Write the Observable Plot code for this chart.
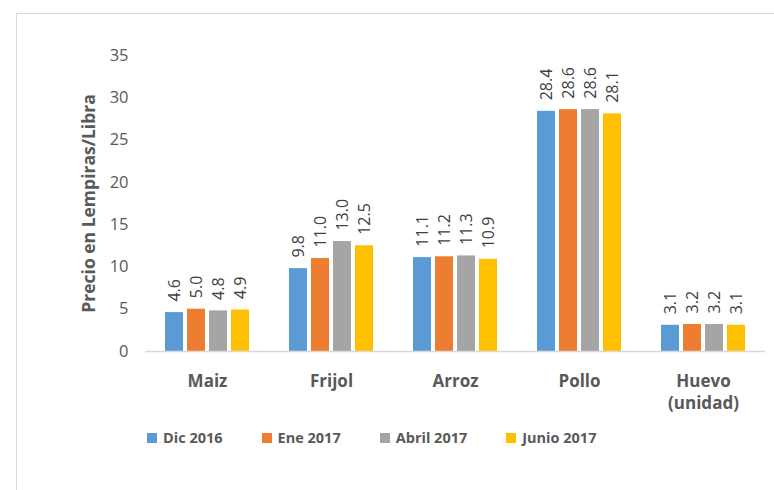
<!DOCTYPE html>
<html>
<head>
<meta charset="utf-8">
<script src="https://cdn.jsdelivr.net/npm/d3@7"></script>
<script src="https://cdn.jsdelivr.net/npm/@observablehq/plot@0.6"></script>
<style>
  html, body { margin: 0; padding: 0; background: #fff; }
  body { width: 774px; height: 490px; position: relative; overflow: hidden; font-family: "Open Sans", sans-serif; }
  #frame { position: absolute; left: 16px; top: 13px; width: 800px; height: 520px; border-left: 1.5px solid #d9d9d9; border-top: 1.5px solid #d9d9d9; }
  #chart { position: absolute; left: 0; top: 0; }
  #chart g[aria-label="y-axis label"] text { font-weight: bold; font-size: 17.5px; }
  #chart g[aria-label="fx-axis tick label"] text { font-weight: bold; }
  #legend { position: absolute; top: 428px; left: 147px; display: flex; font-weight: bold; font-size: 14.5px; color: #595959; }
  #legend .item { display: flex; align-items: center; margin-right: 39px; }
  #legend .sw { width: 10px; height: 10px; margin-right: 6px; }
</style>
</head>
<body>
<div id="frame"></div>
<div id="chart"></div>
<div id="legend"></div>
<script>
const categories = ["Maiz", "Frijol", "Arroz", "Pollo", "Huevo\n(unidad)"];
const series = ["Dic 2016", "Ene 2017", "Abril 2017", "Junio 2017"];
const dic2016 = [4.6, 9.8, 11.1, 28.4, 3.1];
const ene2017 = [5.0, 11.0, 11.2, 28.6, 3.2];
const abril2017 = [4.8, 13.0, 11.3, 28.6, 3.2];
const junio2017 = [4.9, 12.5, 10.9, 28.1, 3.1];
const colors = ["#5B9BD5", "#ED7D31", "#A5A5A5", "#FFC000"];
const yTicks = [0, 5, 10, 15, 20, 25, 30, 35];

const valuesBySeries = [dic2016, ene2017, abril2017, junio2017];
const data = [];
categories.forEach((c, i) => {
  series.forEach((s, j) => data.push({cat: c, series: s, value: valuesBySeries[j][i]}));
});

const plot = Plot.plot({
  width: 774,
  height: 420,
  marginLeft: 145,
  marginRight: 9,
  marginTop: 55,
  marginBottom: 69,
  style: {fontFamily: "Open Sans, sans-serif", color: "#595959", background: "transparent"},
  fx: {domain: categories, padding: 0, label: null},
  x: {domain: series, paddingInner: 0.2, paddingOuter: 0.855, axis: null},
  y: {domain: [0, 35], ticks: yTicks},
  color: {domain: series, range: colors},
  marks: [
    Plot.axisY({ticks: yTicks, tickSize: 0, tickPadding: 17, fontSize: 16.5, label: "Precio en Lempiras/Libra", labelAnchor: "center", labelArrow: "none", labelOffset: 63}),
    Plot.axisFx({anchor: "bottom", tickSize: 0, tickPadding: 20, fontSize: 17, lineHeight: 1.3, label: null}),
    Plot.barY(data, {fx: "cat", x: "series", y: "value", fill: "series"}),
    Plot.ruleY([0], {stroke: "#d9d9d9", strokeWidth: 1.5}),
    Plot.text(data, {fx: "cat", x: "series", y: "value", text: d => d.value.toFixed(1), rotate: -90, textAnchor: "start", dy: -11, fontSize: 16, fill: "#404040"})
  ]
});
document.getElementById("chart").appendChild(plot);

const legend = document.getElementById("legend");
series.forEach((s, i) => {
  const item = document.createElement("div");
  item.className = "item";
  const sw = document.createElement("span");
  sw.className = "sw";
  sw.style.background = colors[i];
  const lab = document.createElement("span");
  lab.textContent = s;
  item.appendChild(sw);
  item.appendChild(lab);
  legend.appendChild(item);
});
</script>
</body>
</html>
